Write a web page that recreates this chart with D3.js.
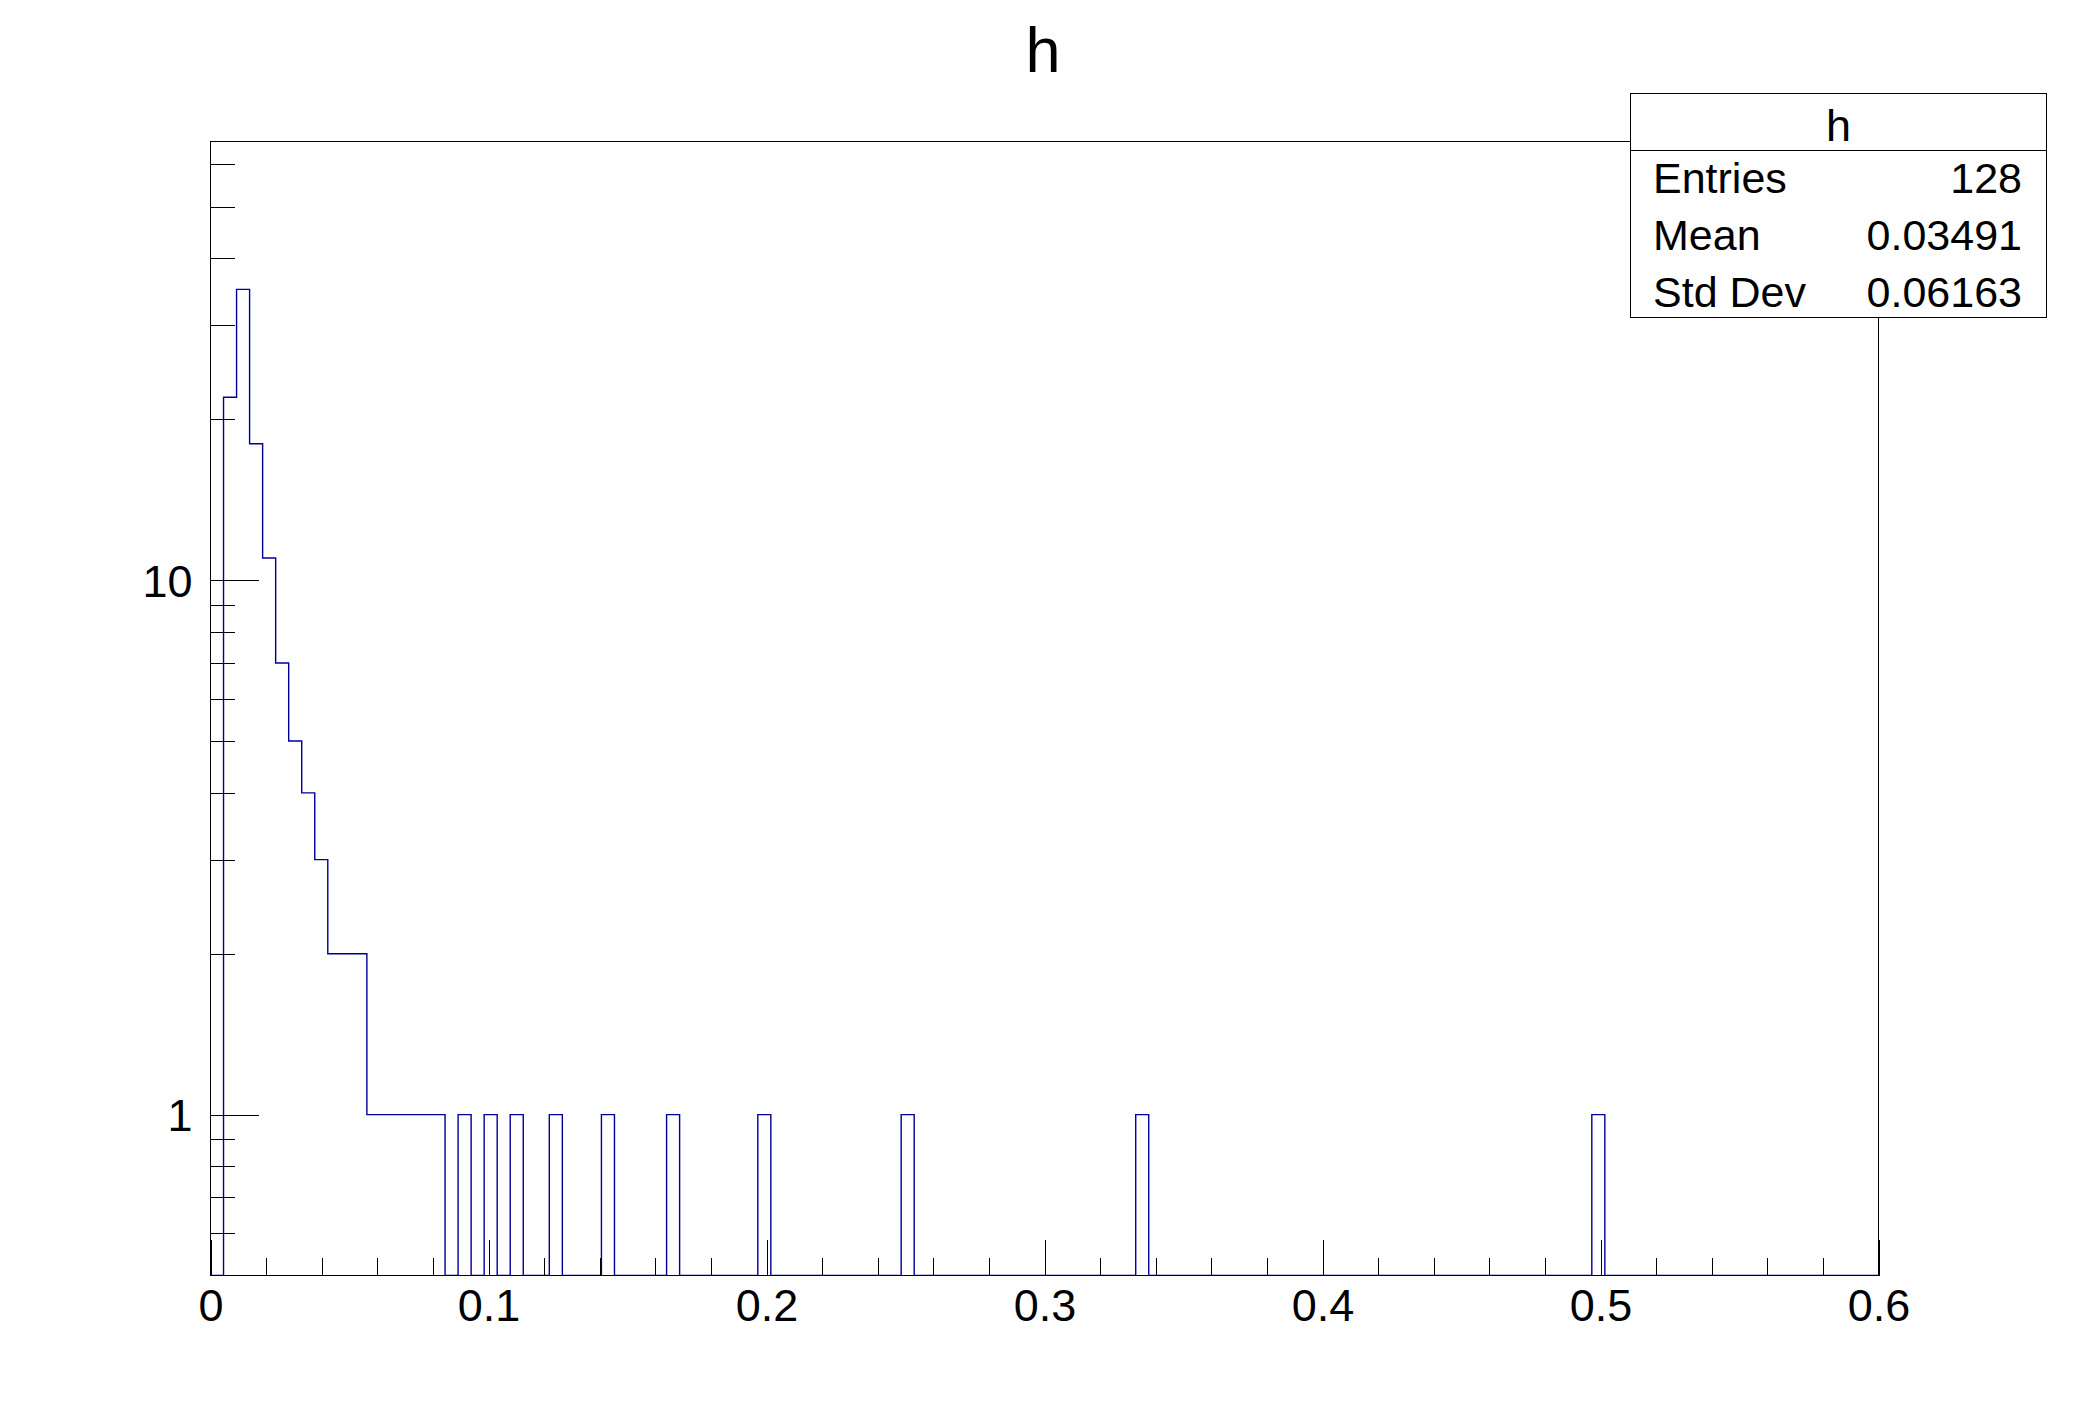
<!DOCTYPE html>
<html>
<head>
<meta charset="utf-8">
<script src="https://cdn.jsdelivr.net/npm/d3@7"></script>
<style>
  body { margin: 0; background: #fff; }
  text { font-family: "Liberation Sans", Arial, sans-serif; fill: #000; }
</style>
</head>
<body>
<div id="chart"></div>
<script>
// histogram h : 128 bins between 0 and 0.6 (log y)
var xLow = 0, xHigh = 0.6;
var counts = [
  0, 22, 35, 18, 11, 7, 5, 4, 3, 2, 2, 2, 1, 1, 1, 1,
  1, 1, 0, 1, 0, 1, 0, 1, 0, 0, 1, 0, 0, 0, 1, 0,
  0, 0, 0, 1, 0, 0, 0, 0, 0, 0, 1, 0, 0, 0, 0, 0,
  0, 0, 0, 0, 0, 1, 0, 0, 0, 0, 0, 0, 0, 0, 0, 0,
  0, 0, 0, 0, 0, 0, 0, 1, 0, 0, 0, 0, 0, 0, 0, 0,
  0, 0, 0, 0, 0, 0, 0, 0, 0, 0, 0, 0, 0, 0, 0, 0,
  0, 0, 0, 0, 0, 0, 0, 0, 0, 0, 1, 0, 0, 0, 0, 0,
  0, 0, 0, 0, 0, 0, 0, 0, 0, 0, 0, 0, 0, 0, 0, 0
];

var xMajor = [0, 0.1, 0.2, 0.3, 0.4, 0.5, 0.6];
var xMinor = [0.02, 0.04, 0.06, 0.08, 0.12, 0.14, 0.16, 0.18, 0.22, 0.24, 0.26, 0.28,
              0.32, 0.34, 0.36, 0.38, 0.42, 0.44, 0.46, 0.48, 0.52, 0.54, 0.56, 0.58];
var yMajor = [1, 10];
var yMinor = [0.6, 0.7, 0.8, 0.9, 2, 3, 4, 5, 6, 7, 8, 9, 20, 30, 40, 50, 60];
var yRange = [0.5, 66.2];

var statTitle = "h";
var statLabels = ["Entries", "Mean", "Std Dev"];
var statValues = ["128", "0.03491", "0.06163"];

var W = 2088, H = 1416;
var frame = {left: 210, right: 1878, top: 141, bottom: 1275};

var svg = d3.select("#chart").append("svg")
  .attr("width", W)
  .attr("height", H)
  .attr("xmlns", "http://www.w3.org/2000/svg");

svg.append("rect").attr("width", W).attr("height", H).attr("fill", "#fff");

var x = d3.scaleLinear().domain([xLow, xHigh]).range([frame.left + 0.5, frame.right + 0.5]);
var y = d3.scaleLog().domain(yRange).range([frame.bottom + 0.5, frame.top + 0.5]);

var binW = (xHigh - xLow) / counts.length;

// histogram outline
svg.append("clipPath").attr("id", "clip")
  .append("rect")
  .attr("x", frame.left).attr("y", frame.top)
  .attr("width", frame.right - frame.left + 1)
  .attr("height", frame.bottom - frame.top + 1);

var yb = frame.bottom + 0.5;
function yv(c) { return c > 0 ? Math.max(Math.min(y(c), yb), frame.top) : yb; }

var path = d3.path();
path.moveTo(x(xLow), yb);
counts.forEach(function(c, i) {
  var lo = xLow + i * binW, hi = xLow + (i + 1) * binW;
  path.lineTo(x(lo), yv(c));
  path.lineTo(x(hi), yv(c));
});
path.lineTo(x(xHigh), yb);

svg.append("path")
  .attr("d", path.toString())
  .attr("clip-path", "url(#clip)")
  .attr("fill", "none")
  .attr("stroke", "#000099")
  .attr("stroke-width", 1.4);

// frame
svg.append("rect")
  .attr("x", frame.left + 0.5).attr("y", frame.top + 0.5)
  .attr("width", frame.right - frame.left)
  .attr("height", frame.bottom - frame.top)
  .attr("fill", "none")
  .attr("stroke", "#000")
  .attr("stroke-width", 1);

// x axis
var gx = svg.append("g").attr("transform", "translate(0," + (frame.bottom + 0.5) + ")");
gx.call(d3.axisBottom(x).tickValues(xMajor).tickSizeInner(-36).tickSizeOuter(0).tickPadding(14)
  .tickFormat(function(d) { return d === 0 ? "0" : d3.format(".1f")(d); }));
gx.append("g").call(d3.axisBottom(x).tickValues(xMinor).tickSizeInner(-18).tickSizeOuter(0).tickFormat(""));

// y axis
var gy = svg.append("g").attr("transform", "translate(" + (frame.left + 0.5) + ",0)");
gy.call(d3.axisLeft(y).tickValues(yMajor).tickSizeInner(-48).tickSizeOuter(0).tickPadding(18)
  .tickFormat(d3.format("d")));
gy.append("g").call(d3.axisLeft(y).tickValues(yMinor).tickSizeInner(-24).tickSizeOuter(0).tickFormat(""));

svg.selectAll(".domain").remove();
svg.selectAll(".tick line").attr("stroke", "#000").attr("shape-rendering", "crispEdges");
svg.selectAll(".tick text")
  .style("font-family", "'Liberation Sans', Arial, sans-serif")
  .style("font-size", "45px")
  .attr("fill", "#000");
gy.selectAll(".tick text").attr("dy", "0.36em");

// title
svg.append("text")
  .attr("x", 1043).attr("y", 72)
  .attr("text-anchor", "middle")
  .style("font-size", "63px")
  .text("h");

// stats box
var box = {x: 1630.5, y: 93.5, w: 416, h: 224, split: 150.5};
var gs = svg.append("g");
gs.append("rect")
  .attr("x", box.x).attr("y", box.y)
  .attr("width", box.w).attr("height", box.h)
  .attr("fill", "#fff").attr("stroke", "#000").attr("stroke-width", 1);
gs.append("line")
  .attr("x1", box.x).attr("x2", box.x + box.w)
  .attr("y1", box.split).attr("y2", box.split)
  .attr("stroke", "#000").attr("stroke-width", 1);
gs.append("text")
  .attr("x", box.x + box.w / 2).attr("y", 141)
  .attr("text-anchor", "middle")
  .style("font-size", "45px")
  .text(statTitle);

var rowY = [192.7, 250, 307];
gs.selectAll(".slab").data(statLabels).enter().append("text")
  .attr("class", "slab")
  .attr("x", 1653).attr("y", function(d, i) { return rowY[i]; })
  .style("font-size", "43px")
  .text(function(d) { return d; });
gs.selectAll(".sval").data(statValues).enter().append("text")
  .attr("class", "sval")
  .attr("x", 2022).attr("y", function(d, i) { return rowY[i]; })
  .attr("text-anchor", "end")
  .style("font-size", "43px")
  .text(function(d) { return d; });
</script>
</body>
</html>
